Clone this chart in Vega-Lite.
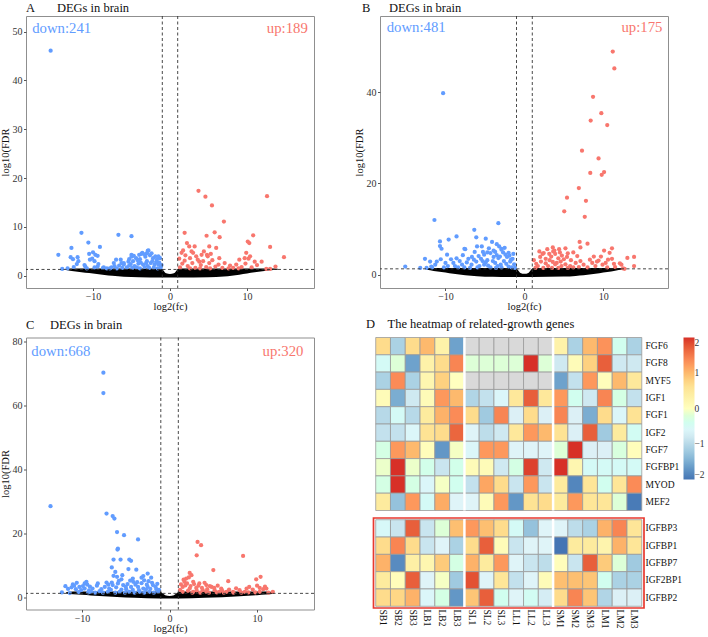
{
"$schema":"https://vega.github.io/schema/vega-lite/v6.json",
"background":"white",
"padding":{"left":0,"top":1,"right":0,"bottom":0},
"config":{
 "font":"Liberation Serif",
 "view":{"stroke":"#8f8f8f","strokeWidth":1},
 "axis":{"labelFont":"Liberation Serif","titleFont":"Liberation Serif","labelFontSize":10,"titleFontSize":10.5,"titleFontWeight":"normal","labelColor":"#333333","titleColor":"#111111","grid":false,"domain":false,"tickColor":"#555555","tickSize":2.5},
 "title":{"font":"Liberation Serif","fontSize":12.5,"fontWeight":"normal","anchor":"start","color":"#111111","frame":"group"},
 "legend":{"labelFont":"Liberation Serif"}
},
"datasets":{
 "aBand":[{"x":-13.5,"lo":1.2,"hi":1.45},{"x":-12.5,"lo":0.95,"hi":1.5},{"x":-11.5,"lo":0.75,"hi":1.5},{"x":-10.5,"lo":0.55,"hi":1.5},{"x":-9.5,"lo":0.35,"hi":1.5},{"x":-8.5,"lo":0.15,"hi":1.5},{"x":-7.5,"lo":0.0,"hi":1.5},{"x":-6,"lo":-0.2,"hi":1.5},{"x":-4,"lo":-0.3,"hi":1.5},{"x":-1.1,"lo":-0.35,"hi":1.5},{"x":-0.8,"lo":-0.35,"hi":1.0},{"x":-0.5,"lo":-0.35,"hi":0.5},{"x":0,"lo":-0.35,"hi":0.35},{"x":0.5,"lo":-0.35,"hi":0.5},{"x":0.8,"lo":-0.35,"hi":1.0},{"x":1.1,"lo":-0.35,"hi":1.5},{"x":5,"lo":-0.3,"hi":1.5},{"x":7,"lo":-0.15,"hi":1.5},{"x":8,"lo":0.0,"hi":1.5},{"x":9,"lo":0.2,"hi":1.5},{"x":10,"lo":0.45,"hi":1.5},{"x":11,"lo":0.7,"hi":1.5},{"x":12,"lo":0.95,"hi":1.5},{"x":13,"lo":1.15,"hi":1.5},{"x":14,"lo":1.25,"hi":1.45}],
 "aDown":[{"x":-15.5,"y":46.1},{"x":-11.5,"y":8.8},{"x":-10.6,"y":6.8},{"x":-6.7,"y":8.4},{"x":-5.0,"y":8.1},{"x":-9.1,"y":5.9},{"x":-12.8,"y":5.7},{"x":-14.5,"y":4.3},{"x":-14.0,"y":1.4},{"x":-12.9,"y":3.8},{"x":-12.0,"y":3.8},{"x":-12.6,"y":3.4},{"x":-11.9,"y":3.0},{"x":-12.5,"y":1.8},{"x":-10.0,"y":4.8},{"x":-10.5,"y":4.5},{"x":-9.7,"y":4.3},{"x":-10.4,"y":3.3},{"x":-9.8,"y":3.0},{"x":-12.1,"y":2.4},{"x":-11.1,"y":2.2},{"x":-9.3,"y":2.4},{"x":-8.6,"y":1.7},{"x":-8.2,"y":1.5},{"x":-9.8,"y":1.7},{"x":-7.6,"y":1.7},{"x":-6.0,"y":2.6},{"x":-7.0,"y":3.3},{"x":-6.4,"y":3.3},{"x":-2.9,"y":5.1},{"x":-3.7,"y":4.5},{"x":-5.0,"y":4.3},{"x":-10.1,"y":3.5},{"x":-9.4,"y":4.1},{"x":-11.0,"y":1.9},{"x":-9.4,"y":1.9},{"x":-8.7,"y":1.6},{"x":-7.2,"y":2.0},{"x":-6.3,"y":2.6},{"x":-6.0,"y":2.3},{"x":-13.3,"y":1.5},{"x":-10.8,"y":1.5},{"x":-3.6,"y":4.7},{"x":-2.8,"y":5.2},{"x":-4.0,"y":4.3},{"x":-5.0,"y":3.9},{"x":-3.2,"y":3.9},{"x":-2.2,"y":3.6},{"x":-1.7,"y":3.3},{"x":-4.2,"y":3.2},{"x":-5.4,"y":2.9},{"x":-2.5,"y":2.6},{"x":-1.5,"y":2.3},{"x":-3.5,"y":2.3},{"x":-4.6,"y":2.0},{"x":-2.9,"y":2.0},{"x":-2.1,"y":1.7},{"x":-3.9,"y":1.5},{"x":-5.6,"y":1.7},{"x":-5.1,"y":2.4},{"x":-1.2,"y":1.7},{"x":-1.4,"y":2.7},{"x":-3.0,"y":3.0},{"x":-3.8,"y":2.7},{"x":-4.4,"y":3.6},{"x":-2.6,"y":4.2},{"x":-1.9,"y":4.0},{"x":-1.3,"y":3.6},{"x":-4.8,"y":3.0},{"x":-3.3,"y":4.4},{"x":-2.0,"y":2.3},{"x":-1.6,"y":1.5},{"x":-2.7,"y":1.6},{"x":-3.3,"y":1.8},{"x":-4.3,"y":1.7},{"x":-4.9,"y":1.6},{"x":-5.3,"y":2.1},{"x":-4.1,"y":2.5},{"x":-3.1,"y":2.6},{"x":-2.3,"y":3.0},{"x":-1.1,"y":2.2},{"x":-1.8,"y":2.8},{"x":-3.9,"y":3.4},{"x":-4.7,"y":4.1},{"x":-3.0,"y":4.6},{"x":-2.4,"y":4.6},{"x":-1.5,"y":4.0},{"x":-5.3,"y":3.4},{"x":-6.2,"y":1.6},{"x":-6.6,"y":2.1},{"x":-7.3,"y":2.6},{"x":-7.8,"y":1.5},{"x":-6.9,"y":1.5}],
 "aUp":[{"x":3.7,"y":17.4},{"x":4.6,"y":16.2},{"x":5.45,"y":14.4},{"x":7.0,"y":11.1},{"x":12.6,"y":16.3},{"x":1.9,"y":8.8},{"x":4.75,"y":8.2},{"x":5.8,"y":8.9},{"x":6.45,"y":7.9},{"x":10.8,"y":8.3},{"x":10.3,"y":6.7},{"x":13.0,"y":5.9},{"x":14.8,"y":3.8},{"x":9.9,"y":4.7},{"x":5.1,"y":6.0},{"x":6.0,"y":5.7},{"x":2.2,"y":6.7},{"x":2.5,"y":6.0},{"x":3.2,"y":6.0},{"x":1.5,"y":4.7},{"x":3.0,"y":4.7},{"x":4.9,"y":4.0},{"x":7.1,"y":2.6},{"x":11.9,"y":2.9},{"x":13.7,"y":1.9},{"x":12.5,"y":1.4},{"x":13.0,"y":1.4},{"x":9.0,"y":3.3},{"x":9.7,"y":3.6},{"x":11.3,"y":2.2},{"x":10.1,"y":7.0},{"x":4.8,"y":4.3},{"x":3.8,"y":2.9},{"x":1.3,"y":1.7},{"x":1.6,"y":2.5},{"x":1.9,"y":3.1},{"x":2.3,"y":2.0},{"x":2.6,"y":3.6},{"x":2.9,"y":2.6},{"x":3.3,"y":1.6},{"x":3.6,"y":3.3},{"x":4.0,"y":2.2},{"x":4.3,"y":3.0},{"x":4.7,"y":1.8},{"x":5.1,"y":2.6},{"x":5.5,"y":3.2},{"x":5.9,"y":1.9},{"x":6.3,"y":2.3},{"x":6.8,"y":1.6},{"x":1.2,"y":3.5},{"x":2.0,"y":4.2},{"x":3.4,"y":4.0},{"x":4.1,"y":4.3},{"x":5.3,"y":4.5},{"x":6.4,"y":3.6},{"x":2.6,"y":1.5},{"x":3.9,"y":1.5},{"x":5.2,"y":1.5},{"x":7.6,"y":1.5},{"x":8.2,"y":1.6},{"x":8.6,"y":2.3},{"x":9.3,"y":1.8},{"x":9.8,"y":2.5},{"x":10.2,"y":3.5},{"x":10.6,"y":1.7},{"x":11.0,"y":2.9},{"x":8.9,"y":1.5},{"x":10.4,"y":4.0},{"x":7.8,"y":2.1},{"x":1.7,"y":5.2},{"x":2.8,"y":5.0},{"x":4.4,"y":5.0}],
 "bBand":[{"x":-12.4,"lo":1.1,"hi":1.45},{"x":-11.5,"lo":0.85,"hi":1.5},{"x":-10.5,"lo":0.6,"hi":1.5},{"x":-9.5,"lo":0.35,"hi":1.5},{"x":-8.5,"lo":0.1,"hi":1.5},{"x":-7.5,"lo":-0.1,"hi":1.5},{"x":-6,"lo":-0.3,"hi":1.5},{"x":-4,"lo":-0.45,"hi":1.5},{"x":-1.1,"lo":-0.5,"hi":1.5},{"x":-0.8,"lo":-0.5,"hi":1.0},{"x":-0.5,"lo":-0.5,"hi":0.4},{"x":0,"lo":-0.5,"hi":0.2},{"x":0.5,"lo":-0.5,"hi":0.4},{"x":0.8,"lo":-0.5,"hi":1.0},{"x":1.1,"lo":-0.5,"hi":1.5},{"x":5,"lo":-0.4,"hi":1.5},{"x":6.5,"lo":-0.25,"hi":1.5},{"x":7.5,"lo":-0.1,"hi":1.5},{"x":8.5,"lo":0.1,"hi":1.5},{"x":9.5,"lo":0.35,"hi":1.5},{"x":10.5,"lo":0.6,"hi":1.5},{"x":11.5,"lo":0.9,"hi":1.5},{"x":12.4,"lo":1.15,"hi":1.45}],
 "bDown":[{"x":-10.3,"y":39.8},{"x":-11.4,"y":12.0},{"x":-3.3,"y":11.3},{"x":-6.35,"y":9.85},{"x":-8.6,"y":8.4},{"x":-9.6,"y":7.7},{"x":-10.7,"y":7.3},{"x":-6.1,"y":8.2},{"x":-4.9,"y":7.9},{"x":-4.1,"y":7.2},{"x":-7.6,"y":5.7},{"x":-10.7,"y":6.3},{"x":-10.5,"y":5.7},{"x":-9.8,"y":4.4},{"x":-15.1,"y":1.8},{"x":-12.6,"y":3.5},{"x":-11.95,"y":2.9},{"x":-11.1,"y":2.9},{"x":-12.4,"y":1.5},{"x":-11.3,"y":2.2},{"x":-9.0,"y":2.6},{"x":-7.9,"y":2.2},{"x":-7.5,"y":5.6},{"x":-6.0,"y":6.2},{"x":-5.4,"y":6.2},{"x":-5.25,"y":5.0},{"x":-3.5,"y":6.7},{"x":-3.2,"y":6.2},{"x":-6.65,"y":3.9},{"x":-2.9,"y":5.7},{"x":-9.7,"y":1.9},{"x":-8.4,"y":1.6},{"x":-7.6,"y":1.6},{"x":-10.2,"y":1.6},{"x":-11.7,"y":1.6},{"x":-13.2,"y":1.5},{"x":-4.3,"y":4.75},{"x":-3.7,"y":5.0},{"x":-2.9,"y":5.5},{"x":-2.4,"y":4.4},{"x":-2.2,"y":3.9},{"x":-1.8,"y":2.9},{"x":-1.6,"y":1.6},{"x":-3.3,"y":3.65},{"x":-3.9,"y":3.9},{"x":-4.7,"y":3.2},{"x":-5.5,"y":3.5},{"x":-6.1,"y":2.9},{"x":-6.7,"y":2.2},{"x":-5.1,"y":2.2},{"x":-3.7,"y":2.6},{"x":-2.9,"y":1.6},{"x":-4.3,"y":1.6},{"x":-5.95,"y":1.6},{"x":-7.1,"y":3.5},{"x":-5.1,"y":4.4},{"x":-4.5,"y":5.8},{"x":-1.3,"y":2.3},{"x":-1.5,"y":3.5},{"x":-2.0,"y":4.8},{"x":-2.6,"y":3.0},{"x":-3.0,"y":2.2},{"x":-3.5,"y":4.3},{"x":-4.0,"y":3.0},{"x":-4.9,"y":2.7},{"x":-5.7,"y":1.9},{"x":-6.4,"y":3.3},{"x":-6.9,"y":1.5},{"x":-7.3,"y":2.7},{"x":-8.2,"y":3.0},{"x":-8.8,"y":1.9},{"x":-2.3,"y":2.4},{"x":-1.2,"y":1.5},{"x":-3.4,"y":1.9},{"x":-4.6,"y":2.0},{"x":-5.3,"y":3.0},{"x":-2.7,"y":4.9},{"x":-3.9,"y":5.3},{"x":-4.7,"y":4.9},{"x":-5.8,"y":4.1},{"x":-1.9,"y":4.2},{"x":-1.4,"y":4.6},{"x":-2.5,"y":5.9},{"x":-3.1,"y":4.0},{"x":-3.6,"y":1.5},{"x":-2.0,"y":1.8},{"x":-1.7,"y":3.3},{"x":-6.3,"y":5.0},{"x":-7.8,"y":4.3},{"x":-8.6,"y":3.6},{"x":-9.3,"y":3.4},{"x":-10.0,"y":2.6},{"x":-10.6,"y":3.4},{"x":-11.8,"y":1.8}],
 "bUp":[{"x":11.2,"y":48.9},{"x":11.4,"y":45.2},{"x":8.7,"y":39.0},{"x":9.75,"y":35.4},{"x":8.4,"y":33.8},{"x":10.5,"y":32.8},{"x":7.3,"y":27.2},{"x":9.4,"y":25.5},{"x":8.35,"y":22.3},{"x":10.1,"y":22.5},{"x":9.8,"y":21.9},{"x":6.9,"y":19.0},{"x":5.4,"y":16.9},{"x":7.8,"y":16.2},{"x":5.05,"y":13.9},{"x":7.65,"y":12.7},{"x":7.0,"y":7.2},{"x":8.0,"y":6.8},{"x":7.1,"y":6.0},{"x":10.1,"y":5.3},{"x":11.1,"y":5.8},{"x":10.8,"y":4.8},{"x":5.2,"y":5.8},{"x":3.8,"y":5.3},{"x":2.45,"y":4.75},{"x":3.65,"y":5.1},{"x":3.9,"y":4.6},{"x":6.2,"y":4.9},{"x":13.05,"y":3.7},{"x":13.9,"y":3.9},{"x":10.6,"y":3.3},{"x":12.1,"y":2.5},{"x":12.5,"y":1.4},{"x":11.5,"y":1.7},{"x":13.9,"y":1.9},{"x":9.4,"y":3.1},{"x":11.35,"y":2.4},{"x":12.3,"y":2.2},{"x":12.7,"y":1.3},{"x":2.1,"y":2.9},{"x":2.7,"y":3.5},{"x":3.2,"y":3.2},{"x":4.1,"y":2.6},{"x":4.6,"y":2.9},{"x":5.2,"y":2.3},{"x":5.8,"y":1.9},{"x":6.5,"y":2.6},{"x":1.7,"y":1.9},{"x":3.0,"y":1.9},{"x":3.9,"y":2.3},{"x":4.7,"y":1.9},{"x":8.0,"y":1.6},{"x":8.6,"y":2.6},{"x":9.0,"y":1.9},{"x":9.2,"y":2.9},{"x":2.3,"y":4.6},{"x":3.15,"y":4.6},{"x":4.75,"y":4.2},{"x":5.4,"y":3.9},{"x":7.5,"y":2.2},{"x":9.9,"y":2.2},{"x":10.5,"y":1.6},{"x":1.4,"y":1.5},{"x":1.5,"y":2.4},{"x":2.4,"y":1.5},{"x":3.5,"y":1.5},{"x":4.3,"y":1.5},{"x":5.5,"y":1.5},{"x":6.2,"y":1.6},{"x":4.3,"y":3.6},{"x":3.4,"y":4.0},{"x":2.0,"y":3.9},{"x":5.9,"y":3.2},{"x":6.9,"y":1.7},{"x":7.1,"y":3.0},{"x":8.3,"y":3.3},{"x":1.2,"y":3.2},{"x":9.7,"y":4.0},{"x":10.3,"y":2.6},{"x":11.1,"y":3.5},{"x":6.7,"y":4.1},{"x":5.0,"y":3.4},{"x":2.7,"y":2.5},{"x":3.6,"y":2.8},{"x":4.5,"y":4.9},{"x":5.5,"y":4.7},{"x":1.9,"y":5.1},{"x":2.9,"y":5.6},{"x":3.6,"y":6.0},{"x":4.4,"y":5.6},{"x":8.8,"y":4.0}],
 "cBand":[{"x":-11.8,"lo":1.2,"hi":1.7},{"x":-11,"lo":1.0,"hi":1.85},{"x":-10,"lo":0.85,"hi":1.85},{"x":-9,"lo":0.65,"hi":1.85},{"x":-8,"lo":0.45,"hi":1.85},{"x":-7,"lo":0.3,"hi":1.85},{"x":-6,"lo":0.15,"hi":1.85},{"x":-4,"lo":-0.1,"hi":1.85},{"x":-1.1,"lo":-0.3,"hi":1.85},{"x":-0.8,"lo":-0.3,"hi":1.3},{"x":-0.5,"lo":-0.3,"hi":0.7},{"x":0,"lo":-0.3,"hi":0.45},{"x":0.5,"lo":-0.3,"hi":0.7},{"x":0.8,"lo":-0.3,"hi":1.3},{"x":1.1,"lo":-0.3,"hi":1.85},{"x":4,"lo":-0.1,"hi":1.85},{"x":6,"lo":0.1,"hi":1.85},{"x":8,"lo":0.4,"hi":1.85},{"x":10,"lo":0.75,"hi":1.85},{"x":11,"lo":0.95,"hi":1.85},{"x":11.9,"lo":1.2,"hi":1.7}],
 "cDown":[{"x":-7.56,"y":70.4},{"x":-7.56,"y":64.0},{"x":-13.6,"y":28.6},{"x":-7.2,"y":26.3},{"x":-6.5,"y":25.5},{"x":-6.3,"y":24.7},{"x":-6.0,"y":20.5},{"x":-5.2,"y":19.5},{"x":-3.6,"y":18.2},{"x":-5.9,"y":15.3},{"x":-5.95,"y":15.0},{"x":-6.4,"y":11.9},{"x":-5.6,"y":11.9},{"x":-4.6,"y":11.9},{"x":-4.4,"y":11.5},{"x":-6.6,"y":9.4},{"x":-4.7,"y":8.9},{"x":-3.8,"y":8.7},{"x":-6.4,"y":6.8},{"x":-6.0,"y":6.5},{"x":-5.8,"y":5.2},{"x":-4.2,"y":5.95},{"x":-4.15,"y":4.9},{"x":-3.2,"y":6.2},{"x":-2.5,"y":7.5},{"x":-2.1,"y":6.2},{"x":-2.9,"y":5.4},{"x":-7.2,"y":4.7},{"x":-9.5,"y":4.9},{"x":-9.7,"y":4.4},{"x":-11.05,"y":4.1},{"x":-11.9,"y":3.55},{"x":-10.7,"y":2.6},{"x":-11.4,"y":1.4},{"x":-10.1,"y":2.3},{"x":-8.8,"y":2.8},{"x":-8.0,"y":2.0},{"x":-6.9,"y":2.8},{"x":-5.3,"y":3.9},{"x":-4.95,"y":2.6},{"x":-4.4,"y":3.3},{"x":-3.6,"y":3.3},{"x":-3.0,"y":2.8},{"x":-2.5,"y":3.3},{"x":-1.9,"y":3.9},{"x":-1.5,"y":2.6},{"x":-1.3,"y":1.8},{"x":-2.3,"y":1.8},{"x":-3.4,"y":1.8},{"x":-4.6,"y":1.8},{"x":-5.7,"y":1.8},{"x":-7.05,"y":1.8},{"x":-8.96,"y":1.8},{"x":-9.7,"y":2.8},{"x":-10.3,"y":3.3},{"x":-6.5,"y":3.9},{"x":-7.4,"y":3.3},{"x":-12.3,"y":1.6},{"x":-11.6,"y":2.7},{"x":-10.9,"y":3.7},{"x":-10.4,"y":1.7},{"x":-9.9,"y":3.6},{"x":-9.2,"y":2.2},{"x":-9.1,"y":3.4},{"x":-8.5,"y":1.5},{"x":-8.3,"y":3.7},{"x":-7.8,"y":2.6},{"x":-7.6,"y":1.5},{"x":-7.0,"y":4.0},{"x":-6.7,"y":2.4},{"x":-6.2,"y":1.5},{"x":-6.1,"y":3.2},{"x":-5.9,"y":4.4},{"x":-5.5,"y":2.5},{"x":-5.1,"y":1.5},{"x":-5.0,"y":3.3},{"x":-4.8,"y":4.2},{"x":-4.2,"y":2.4},{"x":-4.0,"y":1.5},{"x":-3.9,"y":4.0},{"x":-3.5,"y":2.3},{"x":-3.2,"y":4.5},{"x":-2.9,"y":1.5},{"x":-2.7,"y":2.5},{"x":-2.6,"y":4.0},{"x":-2.2,"y":2.7},{"x":-2.0,"y":4.6},{"x":-1.8,"y":1.5},{"x":-1.6,"y":3.3},{"x":-1.2,"y":2.4},{"x":-1.4,"y":4.3},{"x":-2.4,"y":5.1},{"x":-3.7,"y":4.8},{"x":-4.5,"y":5.3},{"x":-5.5,"y":5.7},{"x":-6.6,"y":4.7},{"x":-8.2,"y":4.4},{"x":-9.4,"y":4.0},{"x":-10.6,"y":4.6},{"x":-11.2,"y":3.2},{"x":-9.3,"y":1.6},{"x":-5.4,"y":7.0},{"x":-3.0,"y":6.7},{"x":-6.2,"y":8.0}],
 "cUp":[{"x":3.2,"y":17.4},{"x":3.6,"y":16.4},{"x":3.1,"y":13.2},{"x":8.4,"y":13.0},{"x":5.0,"y":8.6},{"x":10.4,"y":6.5},{"x":9.9,"y":5.7},{"x":6.7,"y":5.1},{"x":2.3,"y":7.7},{"x":2.5,"y":7.0},{"x":1.9,"y":5.95},{"x":1.7,"y":4.9},{"x":2.7,"y":4.9},{"x":3.4,"y":4.4},{"x":4.2,"y":3.9},{"x":4.8,"y":3.3},{"x":5.9,"y":2.8},{"x":1.5,"y":3.3},{"x":2.3,"y":2.8},{"x":3.05,"y":3.0},{"x":3.8,"y":2.3},{"x":5.15,"y":2.3},{"x":6.5,"y":1.8},{"x":1.5,"y":1.8},{"x":8.0,"y":2.3},{"x":8.8,"y":2.8},{"x":9.5,"y":2.5},{"x":10.3,"y":3.0},{"x":10.7,"y":2.6},{"x":11.06,"y":2.8},{"x":11.8,"y":1.8},{"x":10.3,"y":1.8},{"x":8.6,"y":1.8},{"x":5.7,"y":1.8},{"x":2.7,"y":1.8},{"x":4.2,"y":1.8},{"x":7.25,"y":1.8},{"x":1.2,"y":2.4},{"x":1.3,"y":4.1},{"x":1.8,"y":3.8},{"x":2.1,"y":2.1},{"x":2.0,"y":4.4},{"x":2.4,"y":3.6},{"x":2.6,"y":1.5},{"x":2.8,"y":4.2},{"x":3.1,"y":2.2},{"x":3.3,"y":3.7},{"x":3.5,"y":1.5},{"x":3.7,"y":3.0},{"x":4.0,"y":4.6},{"x":4.3,"y":2.6},{"x":4.5,"y":1.5},{"x":4.6,"y":3.6},{"x":5.1,"y":3.0},{"x":5.4,"y":1.6},{"x":5.5,"y":3.7},{"x":6.0,"y":2.2},{"x":6.2,"y":1.5},{"x":6.8,"y":2.5},{"x":7.3,"y":1.5},{"x":7.6,"y":2.9},{"x":8.2,"y":1.5},{"x":9.0,"y":1.6},{"x":9.1,"y":3.3},{"x":9.8,"y":1.6},{"x":10.0,"y":3.7},{"x":11.3,"y":1.5},{"x":10.9,"y":3.4},{"x":1.6,"y":5.6},{"x":2.2,"y":6.3}],
 "hmTop":[
  {"g":"FGF6","s":"SB1","v":0.7},{"g":"FGF6","s":"SB2","v":-1.1},{"g":"FGF6","s":"SB3","v":0.7},{"g":"FGF6","s":"LB1","v":1.0},{"g":"FGF6","s":"LB2","v":0.3},{"g":"FGF6","s":"LB3","v":-1.6},{"g":"FGF6","s":"SL1","v":null},{"g":"FGF6","s":"SL2","v":null},{"g":"FGF6","s":"SL3","v":null},{"g":"FGF6","s":"LL1","v":null},{"g":"FGF6","s":"LL2","v":null},{"g":"FGF6","s":"LL3","v":null},{"g":"FGF6","s":"SM1","v":0.3},{"g":"FGF6","s":"SM2","v":-1.1},{"g":"FGF6","s":"SM3","v":1.0},{"g":"FGF6","s":"LM1","v":1.3},{"g":"FGF6","s":"LM2","v":-0.4},{"g":"FGF6","s":"LM3","v":-1.1},
  {"g":"FGF8","s":"SB1","v":-0.5},{"g":"FGF8","s":"SB2","v":-0.2},{"g":"FGF8","s":"SB3","v":-1.6},{"g":"FGF8","s":"LB1","v":0.3},{"g":"FGF8","s":"LB2","v":0.7},{"g":"FGF8","s":"LB3","v":1.4},{"g":"FGF8","s":"SL1","v":-0.2},{"g":"FGF8","s":"SL2","v":-0.2},{"g":"FGF8","s":"SL3","v":-0.2},{"g":"FGF8","s":"LL1","v":-0.2},{"g":"FGF8","s":"LL2","v":2.0},{"g":"FGF8","s":"LL3","v":-0.2},{"g":"FGF8","s":"SM1","v":-0.8},{"g":"FGF8","s":"SM2","v":0.1},{"g":"FGF8","s":"SM3","v":0.8},{"g":"FGF8","s":"LM1","v":1.7},{"g":"FGF8","s":"LM2","v":-0.8},{"g":"FGF8","s":"LM3","v":-0.8},
  {"g":"MYF5","s":"SB1","v":-1.1},{"g":"MYF5","s":"SB2","v":1.35},{"g":"MYF5","s":"SB3","v":-1.1},{"g":"MYF5","s":"LB1","v":0.2},{"g":"MYF5","s":"LB2","v":0.8},{"g":"MYF5","s":"LB3","v":0.0},{"g":"MYF5","s":"SL1","v":null},{"g":"MYF5","s":"SL2","v":null},{"g":"MYF5","s":"SL3","v":null},{"g":"MYF5","s":"LL1","v":null},{"g":"MYF5","s":"LL2","v":null},{"g":"MYF5","s":"LL3","v":null},{"g":"MYF5","s":"SM1","v":-1.6},{"g":"MYF5","s":"SM2","v":-0.9},{"g":"MYF5","s":"SM3","v":1.25},{"g":"MYF5","s":"LM1","v":0.05},{"g":"MYF5","s":"LM2","v":1.0},{"g":"MYF5","s":"LM3","v":0.5},
  {"g":"IGF1","s":"SB1","v":0.1},{"g":"IGF1","s":"SB2","v":-1.5},{"g":"IGF1","s":"SB3","v":-0.8},{"g":"IGF1","s":"LB1","v":0.1},{"g":"IGF1","s":"LB2","v":1.25},{"g":"IGF1","s":"LB3","v":1.0},{"g":"IGF1","s":"SL1","v":-1.05},{"g":"IGF1","s":"SL2","v":-0.9},{"g":"IGF1","s":"SL3","v":-0.6},{"g":"IGF1","s":"LL1","v":0.5},{"g":"IGF1","s":"LL2","v":1.7},{"g":"IGF1","s":"LL3","v":0.5},{"g":"IGF1","s":"SM1","v":1.25},{"g":"IGF1","s":"SM2","v":-0.4},{"g":"IGF1","s":"SM3","v":-0.8},{"g":"IGF1","s":"LM1","v":1.4},{"g":"IGF1","s":"LM2","v":-0.3},{"g":"IGF1","s":"LM3","v":-0.9},
  {"g":"FGF1","s":"SB1","v":-1.0},{"g":"FGF1","s":"SB2","v":-0.5},{"g":"FGF1","s":"SB3","v":-1.0},{"g":"FGF1","s":"LB1","v":0.45},{"g":"FGF1","s":"LB2","v":1.05},{"g":"FGF1","s":"LB3","v":1.35},{"g":"FGF1","s":"SL1","v":0.7},{"g":"FGF1","s":"SL2","v":-1.2},{"g":"FGF1","s":"SL3","v":1.4},{"g":"FGF1","s":"LL1","v":-0.7},{"g":"FGF1","s":"LL2","v":0.7},{"g":"FGF1","s":"LL3","v":-0.7},{"g":"FGF1","s":"SM1","v":1.4},{"g":"FGF1","s":"SM2","v":-0.7},{"g":"FGF1","s":"SM3","v":-1.5},{"g":"FGF1","s":"LM1","v":0.7},{"g":"FGF1","s":"LM2","v":-0.6},{"g":"FGF1","s":"LM3","v":0.6},
  {"g":"IGF2","s":"SB1","v":-0.9},{"g":"IGF2","s":"SB2","v":-0.9},{"g":"IGF2","s":"SB3","v":-0.6},{"g":"IGF2","s":"LB1","v":0.6},{"g":"IGF2","s":"LB2","v":0.7},{"g":"IGF2","s":"LB3","v":1.65},{"g":"IGF2","s":"SL1","v":-0.65},{"g":"IGF2","s":"SL2","v":-0.95},{"g":"IGF2","s":"SL3","v":-0.8},{"g":"IGF2","s":"LL1","v":0.5},{"g":"IGF2","s":"LL2","v":1.25},{"g":"IGF2","s":"LL3","v":1.0},{"g":"IGF2","s":"SM1","v":0.6},{"g":"IGF2","s":"SM2","v":-0.7},{"g":"IGF2","s":"SM3","v":1.7},{"g":"IGF2","s":"LM1","v":-1.2},{"g":"IGF2","s":"LM2","v":0.45},{"g":"IGF2","s":"LM3","v":-0.45},
  {"g":"FGF7","s":"SB1","v":-0.3},{"g":"FGF7","s":"SB2","v":1.25},{"g":"FGF7","s":"SB3","v":1.0},{"g":"FGF7","s":"LB1","v":0.05},{"g":"FGF7","s":"LB2","v":-1.7},{"g":"FGF7","s":"LB3","v":-0.05},{"g":"FGF7","s":"SL1","v":-0.6},{"g":"FGF7","s":"SL2","v":1.25},{"g":"FGF7","s":"SL3","v":1.25},{"g":"FGF7","s":"LL1","v":-0.65},{"g":"FGF7","s":"LL2","v":-0.65},{"g":"FGF7","s":"LL3","v":-0.65},{"g":"FGF7","s":"SM1","v":-0.2},{"g":"FGF7","s":"SM2","v":2.0},{"g":"FGF7","s":"SM3","v":-0.7},{"g":"FGF7","s":"LM1","v":-0.7},{"g":"FGF7","s":"LM2","v":-0.25},{"g":"FGF7","s":"LM3","v":0.05},
  {"g":"FGFBP1","s":"SB1","v":-0.1},{"g":"FGFBP1","s":"SB2","v":2.0},{"g":"FGFBP1","s":"SB3","v":-0.1},{"g":"FGFBP1","s":"LB1","v":-0.35},{"g":"FGFBP1","s":"LB2","v":-0.85},{"g":"FGFBP1","s":"LB3","v":-0.35},{"g":"FGFBP1","s":"SL1","v":0.1},{"g":"FGFBP1","s":"SL2","v":0.1},{"g":"FGFBP1","s":"SL3","v":-0.8},{"g":"FGFBP1","s":"LL1","v":-0.3},{"g":"FGFBP1","s":"LL2","v":1.9},{"g":"FGFBP1","s":"LL3","v":-0.8},{"g":"FGFBP1","s":"SM1","v":2.0},{"g":"FGFBP1","s":"SM2","v":0.2},{"g":"FGFBP1","s":"SM3","v":-0.5},{"g":"FGFBP1","s":"LM1","v":-0.5},{"g":"FGFBP1","s":"LM2","v":-0.5},{"g":"FGFBP1","s":"LM3","v":-0.5},
  {"g":"MYOD","s":"SB1","v":-0.3},{"g":"MYOD","s":"SB2","v":2.0},{"g":"MYOD","s":"SB3","v":-0.3},{"g":"MYOD","s":"LB1","v":-0.6},{"g":"MYOD","s":"LB2","v":-0.05},{"g":"MYOD","s":"LB3","v":-0.4},{"g":"MYOD","s":"SL1","v":-0.9},{"g":"MYOD","s":"SL2","v":1.15},{"g":"MYOD","s":"SL3","v":0.7},{"g":"MYOD","s":"LL1","v":-0.85},{"g":"MYOD","s":"LL2","v":1.25},{"g":"MYOD","s":"LL3","v":-0.85},{"g":"MYOD","s":"SM1","v":0.45},{"g":"MYOD","s":"SM2","v":-1.85},{"g":"MYOD","s":"SM3","v":0.55},{"g":"MYOD","s":"LM1","v":-0.4},{"g":"MYOD","s":"LM2","v":0.55},{"g":"MYOD","s":"LM3","v":1.35},
  {"g":"MEF2","s":"SB1","v":0.45},{"g":"MEF2","s":"SB2","v":-1.3},{"g":"MEF2","s":"SB3","v":1.25},{"g":"MEF2","s":"LB1","v":-0.5},{"g":"MEF2","s":"LB2","v":1.1},{"g":"MEF2","s":"LB3","v":-0.65},{"g":"MEF2","s":"SL1","v":-0.65},{"g":"MEF2","s":"SL2","v":0.1},{"g":"MEF2","s":"SL3","v":1.25},{"g":"MEF2","s":"LL1","v":-1.7},{"g":"MEF2","s":"LL2","v":0.6},{"g":"MEF2","s":"LL3","v":0.7},{"g":"MEF2","s":"SM1","v":0.45},{"g":"MEF2","s":"SM2","v":1.25},{"g":"MEF2","s":"SM3","v":0.55},{"g":"MEF2","s":"LM1","v":0.55},{"g":"MEF2","s":"LM2","v":-0.2},{"g":"MEF2","s":"LM3","v":-1.95}
 ],
 "hmBot":[
  {"g":"IGFBP3","s":"SB1","v":-0.55},{"g":"IGFBP3","s":"SB2","v":-0.85},{"g":"IGFBP3","s":"SB3","v":1.7},{"g":"IGFBP3","s":"LB1","v":-0.85},{"g":"IGFBP3","s":"LB2","v":-0.2},{"g":"IGFBP3","s":"LB3","v":0.95},{"g":"IGFBP3","s":"SL1","v":1.25},{"g":"IGFBP3","s":"SL2","v":0.95},{"g":"IGFBP3","s":"SL3","v":0.7},{"g":"IGFBP3","s":"LL1","v":-0.5},{"g":"IGFBP3","s":"LL2","v":-1.3},{"g":"IGFBP3","s":"LL3","v":-0.65},{"g":"IGFBP3","s":"SM1","v":-0.65},{"g":"IGFBP3","s":"SM2","v":-0.95},{"g":"IGFBP3","s":"SM3","v":-1.1},{"g":"IGFBP3","s":"LM1","v":1.05},{"g":"IGFBP3","s":"LM2","v":1.4},{"g":"IGFBP3","s":"LM3","v":0.55},
  {"g":"IGFBP1","s":"SB1","v":0.7},{"g":"IGFBP1","s":"SB2","v":1.4},{"g":"IGFBP1","s":"SB3","v":0.7},{"g":"IGFBP1","s":"LB1","v":-0.85},{"g":"IGFBP1","s":"LB2","v":-0.65},{"g":"IGFBP1","s":"LB3","v":-1.1},{"g":"IGFBP1","s":"SL1","v":0.7},{"g":"IGFBP1","s":"SL2","v":1.7},{"g":"IGFBP1","s":"SL3","v":0.1},{"g":"IGFBP1","s":"LL1","v":-0.85},{"g":"IGFBP1","s":"LL2","v":-0.65},{"g":"IGFBP1","s":"LL3","v":-0.65},{"g":"IGFBP1","s":"SM1","v":-2.0},{"g":"IGFBP1","s":"SM2","v":0.45},{"g":"IGFBP1","s":"SM3","v":0.45},{"g":"IGFBP1","s":"LM1","v":0.25},{"g":"IGFBP1","s":"LM2","v":1.05},{"g":"IGFBP1","s":"LM3","v":0.55},
  {"g":"IGFBP7","s":"SB1","v":1.05},{"g":"IGFBP7","s":"SB2","v":-1.8},{"g":"IGFBP7","s":"SB3","v":0.35},{"g":"IGFBP7","s":"LB1","v":0.2},{"g":"IGFBP7","s":"LB2","v":0.85},{"g":"IGFBP7","s":"LB3","v":-0.3},{"g":"IGFBP7","s":"SL1","v":1.05},{"g":"IGFBP7","s":"SL2","v":0.45},{"g":"IGFBP7","s":"SL3","v":1.25},{"g":"IGFBP7","s":"LL1","v":-0.65},{"g":"IGFBP7","s":"LL2","v":-0.85},{"g":"IGFBP7","s":"LL3","v":-0.95},{"g":"IGFBP7","s":"SM1","v":0.05},{"g":"IGFBP7","s":"SM2","v":-0.85},{"g":"IGFBP7","s":"SM3","v":1.7},{"g":"IGFBP7","s":"LM1","v":0.85},{"g":"IGFBP7","s":"LM2","v":-0.2},{"g":"IGFBP7","s":"LM3","v":-1.2},
  {"g":"IGF2BP1","s":"SB1","v":0.45},{"g":"IGF2BP1","s":"SB2","v":0.05},{"g":"IGF2BP1","s":"SB3","v":1.7},{"g":"IGF2BP1","s":"LB1","v":-0.65},{"g":"IGF2BP1","s":"LB2","v":-0.05},{"g":"IGF2BP1","s":"LB3","v":-1.2},{"g":"IGF2BP1","s":"SL1","v":1.8},{"g":"IGF2BP1","s":"SL2","v":-0.65},{"g":"IGF2BP1","s":"SL3","v":0.55},{"g":"IGF2BP1","s":"LL1","v":-0.9},{"g":"IGF2BP1","s":"LL2","v":-0.65},{"g":"IGF2BP1","s":"LL3","v":0.1},{"g":"IGF2BP1","s":"SM1","v":0.95},{"g":"IGF2BP1","s":"SM2","v":0.95},{"g":"IGF2BP1","s":"SM3","v":0.9},{"g":"IGF2BP1","s":"LM1","v":-0.4},{"g":"IGF2BP1","s":"LM2","v":-1.1},{"g":"IGF2BP1","s":"LM3","v":-1.1},
  {"g":"IGFBP2","s":"SB1","v":0.7},{"g":"IGFBP2","s":"SB2","v":0.75},{"g":"IGFBP2","s":"SB3","v":1.05},{"g":"IGFBP2","s":"LB1","v":-0.6},{"g":"IGFBP2","s":"LB2","v":-0.3},{"g":"IGFBP2","s":"LB3","v":-1.7},{"g":"IGFBP2","s":"SL1","v":0.9},{"g":"IGFBP2","s":"SL2","v":1.7},{"g":"IGFBP2","s":"SL3","v":-0.4},{"g":"IGFBP2","s":"LL1","v":-0.65},{"g":"IGFBP2","s":"LL2","v":-0.45},{"g":"IGFBP2","s":"LL3","v":-0.75},{"g":"IGFBP2","s":"SM1","v":0.7},{"g":"IGFBP2","s":"SM2","v":1.4},{"g":"IGFBP2","s":"SM3","v":0.9},{"g":"IGFBP2","s":"LM1","v":-1.05},{"g":"IGFBP2","s":"LM2","v":-0.7},{"g":"IGFBP2","s":"LM3","v":-0.7}
 ]
},
"spacing":4.5,
"vconcat":[
 {"spacing":39,"hconcat":[
  {"width":288,"height":272,
   "title":{"text":"A\u2003\u2002 DEGs in brain","offset":1},
   "layer":[
    {"data":{"name":"aBand"},"mark":{"type":"area","color":"#000000","interpolate":"monotone"},
     "encoding":{"x":{"field":"x","type":"quantitative","scale":{"domain":[-18.7,18.7],"nice":false,"zero":false},"axis":{"values":[-10,0,10],"title":"log2(fc)","labelPadding":1,"titlePadding":0}},
      "y":{"field":"hi","type":"quantitative","scale":{"domain":[-2.5,53.2],"nice":false,"zero":false},"axis":{"values":[0,10,20,30,40,50],"title":"log10(FDR","labelPadding":1.5,"titlePadding":1.5}},
      "y2":{"field":"lo"}}},
    {"data":{"name":"aDown"},"mark":{"type":"circle","color":"#619CFF","size":18,"opacity":1},"encoding":{"x":{"field":"x","type":"quantitative"},"y":{"field":"y","type":"quantitative"}}},
    {"data":{"name":"aUp"},"mark":{"type":"circle","color":"#F8766D","size":18,"opacity":1},"encoding":{"x":{"field":"x","type":"quantitative"},"y":{"field":"y","type":"quantitative"}}},
    {"data":{"values":[{"v":-1},{"v":1}]},"mark":{"type":"rule","color":"#333333","strokeDash":[3,2.5],"strokeWidth":0.9},"encoding":{"x":{"field":"v","type":"quantitative"}}},
    {"data":{"values":[{"v":1.3}]},"mark":{"type":"rule","color":"#333333","strokeDash":[3,2.5],"strokeWidth":0.9},"encoding":{"y":{"field":"v","type":"quantitative"}}},
    {"data":{"values":[{"x":-17.9,"y":49.8,"t":"down:241"}]},"mark":{"type":"text","align":"left","baseline":"alphabetic","fontSize":14.75,"color":"#619CFF"},"encoding":{"x":{"field":"x","type":"quantitative"},"y":{"field":"y","type":"quantitative"},"text":{"field":"t"}}},
    {"data":{"values":[{"x":17.9,"y":49.8,"t":"up:189"}]},"mark":{"type":"text","align":"right","baseline":"alphabetic","fontSize":14.75,"color":"#F8766D"},"encoding":{"x":{"field":"x","type":"quantitative"},"y":{"field":"y","type":"quantitative"},"text":{"field":"t"}}}
   ]},
  {"width":288,"height":272,
   "title":{"text":"B\u2003\u2002DEGs in brain","offset":1,"dx":-18},
   "layer":[
    {"data":{"name":"bBand"},"mark":{"type":"area","color":"#000000","interpolate":"monotone"},
     "encoding":{"x":{"field":"x","type":"quantitative","scale":{"domain":[-18.3,18.2],"nice":false,"zero":false},"axis":{"values":[-10,0,10],"title":"log2(fc)","labelPadding":1,"titlePadding":0}},
      "y":{"field":"hi","type":"quantitative","scale":{"domain":[-2.9,56.7],"nice":false,"zero":false},"axis":{"values":[0,20,40],"title":"log10(FDR","labelPadding":1.5,"titlePadding":1.5}},
      "y2":{"field":"lo"}}},
    {"data":{"name":"bDown"},"mark":{"type":"circle","color":"#619CFF","size":18,"opacity":1},"encoding":{"x":{"field":"x","type":"quantitative"},"y":{"field":"y","type":"quantitative"}}},
    {"data":{"name":"bUp"},"mark":{"type":"circle","color":"#F8766D","size":18,"opacity":1},"encoding":{"x":{"field":"x","type":"quantitative"},"y":{"field":"y","type":"quantitative"}}},
    {"data":{"values":[{"v":-1},{"v":1}]},"mark":{"type":"rule","color":"#333333","strokeDash":[3,2.5],"strokeWidth":0.9},"encoding":{"x":{"field":"v","type":"quantitative"}}},
    {"data":{"values":[{"v":1.3}]},"mark":{"type":"rule","color":"#333333","strokeDash":[3,2.5],"strokeWidth":0.9},"encoding":{"y":{"field":"v","type":"quantitative"}}},
    {"data":{"values":[{"x":-17.45,"y":53.1,"t":"down:481"}]},"mark":{"type":"text","align":"left","baseline":"alphabetic","fontSize":14.75,"color":"#619CFF"},"encoding":{"x":{"field":"x","type":"quantitative"},"y":{"field":"y","type":"quantitative"},"text":{"field":"t"}}},
    {"data":{"values":[{"x":17.5,"y":53.1,"t":"up:175"}]},"mark":{"type":"text","align":"right","baseline":"alphabetic","fontSize":14.75,"color":"#F8766D"},"encoding":{"x":{"field":"x","type":"quantitative"},"y":{"field":"y","type":"quantitative"},"text":{"field":"t"}}}
   ]}
 ]},
 {"spacing":50.5,"hconcat":[
  {"width":288,"height":272,
   "title":{"text":"C\u2003 DEGs in brain","offset":5.5},
   "layer":[
    {"data":{"name":"cBand"},"mark":{"type":"area","color":"#000000","interpolate":"monotone"},
     "encoding":{"x":{"field":"x","type":"quantitative","scale":{"domain":[-16.4,16.5],"nice":false,"zero":false},"axis":{"values":[-10,0,10],"title":"log2(fc)","labelPadding":1,"titlePadding":0}},
      "y":{"field":"hi","type":"quantitative","scale":{"domain":[-3.75,81.4],"nice":false,"zero":false},"axis":{"values":[0,20,40,60,80],"title":"log10(FDR","labelPadding":1.5,"titlePadding":1.5}},
      "y2":{"field":"lo"}}},
    {"data":{"name":"cDown"},"mark":{"type":"circle","color":"#619CFF","size":18,"opacity":1},"encoding":{"x":{"field":"x","type":"quantitative"},"y":{"field":"y","type":"quantitative"}}},
    {"data":{"name":"cUp"},"mark":{"type":"circle","color":"#F8766D","size":18,"opacity":1},"encoding":{"x":{"field":"x","type":"quantitative"},"y":{"field":"y","type":"quantitative"}}},
    {"data":{"values":[{"v":-1},{"v":1}]},"mark":{"type":"rule","color":"#333333","strokeDash":[3,2.5],"strokeWidth":0.9},"encoding":{"x":{"field":"v","type":"quantitative"}}},
    {"data":{"values":[{"v":1.3}]},"mark":{"type":"rule","color":"#333333","strokeDash":[3,2.5],"strokeWidth":0.9},"encoding":{"y":{"field":"v","type":"quantitative"}}},
    {"data":{"values":[{"x":-15.8,"y":75.6,"t":"down:668"}]},"mark":{"type":"text","align":"left","baseline":"alphabetic","fontSize":14.75,"color":"#619CFF"},"encoding":{"x":{"field":"x","type":"quantitative"},"y":{"field":"y","type":"quantitative"},"text":{"field":"t"}}},
    {"data":{"values":[{"x":15.3,"y":75.6,"t":"up:320"}]},"mark":{"type":"text","align":"right","baseline":"alphabetic","fontSize":14.75,"color":"#F8766D"},"encoding":{"x":{"field":"x","type":"quantitative"},"y":{"field":"y","type":"quantitative"},"text":{"field":"t"}}}
   ]},
  {"title":{"text":"D\u2003The heatmap of related-growth genes","offset":5.5,"dx":-7.5},
   "spacing":3.5,
   "resolve":{"legend":{"color":"independent"},"scale":{"color":"independent"}},
   "vconcat":[
    {"width":270.5,"height":173,"view":{"stroke":null},
     "layer":[
      {"data":{"name":"hmTop"},"transform":[{"filter":"datum.v !== null"}],"mark":{"type":"rect","stroke":"#9b9b9b","strokeWidth":0.8},
       "encoding":{
        "x":{"field":"s","type":"nominal","scale":{"domain":["SB1","SB2","SB3","LB1","LB2","LB3","SL1","SL2","SL3","LL1","LL2","LL3","SM1","SM2","SM3","LM1","LM2","LM3"],"paddingInner":0,"paddingOuter":0.15},"axis":null},
        "y":{"field":"g","type":"nominal","scale":{"domain":["FGF6","FGF8","MYF5","IGF1","FGF1","IGF2","FGF7","FGFBP1","MYOD","MEF2"],"paddingInner":0,"paddingOuter":0},"axis":{"orient":"right","ticks":false,"domain":false,"labelPadding":1,"labelFontSize":9.5,"title":null,"labelColor":"#111111"}},
        "color":{"field":"v","type":"quantitative","scale":{"domain":[-2,-1.333,-0.667,0,0.667,1.333,2],"range":["#4575B4","#91BFDB","#E0F3F8","#FFFFBF","#FEE090","#FC8D59","#D73027"]},
         "legend":{"title":null,"values":[2,1,0,-1,-2],"gradientLength":142,"gradientThickness":11,"offset":4,"labelFontSize":9.5,"labelOffset":0,"labelAlign":"right","labelColor":"#333333","gradientStrokeWidth":0}}}},
      {"data":{"name":"hmTop"},"transform":[{"filter":"datum.v === null"}],"mark":{"type":"rect","fill":"#d9d9d9","stroke":"#9b9b9b","strokeWidth":0.8},
       "encoding":{"x":{"field":"s","type":"nominal"},"y":{"field":"g","type":"nominal"}}},
      {"data":{"values":[{"s":"LB3"},{"s":"LL3"}]},"mark":{"type":"rule","color":"#ffffff","strokeWidth":2.5},
       "encoding":{"x":{"field":"s","type":"nominal","bandPosition":1}}}
     ]},
    {"width":270.5,"height":90,"view":{"stroke":null},
     "layer":[
      {"data":{"name":"hmBot"},"mark":{"type":"rect","stroke":"#9b9b9b","strokeWidth":0.8},
       "encoding":{
        "x":{"field":"s","type":"nominal","scale":{"domain":["SB1","SB2","SB3","LB1","LB2","LB3","SL1","SL2","SL3","LL1","LL2","LL3","SM1","SM2","SM3","LM1","LM2","LM3"],"paddingInner":0,"paddingOuter":0.15},"axis":{"orient":"bottom","ticks":false,"domain":false,"labelAngle":90,"labelPadding":1,"labelFontSize":9.5,"title":null,"labelColor":"#111111"}},
        "y":{"field":"g","type":"nominal","scale":{"domain":["IGFBP3","IGFBP1","IGFBP7","IGF2BP1","IGFBP2"],"paddingInner":0,"paddingOuter":0.1},"axis":{"orient":"right","ticks":false,"domain":false,"labelPadding":1,"labelFontSize":9.5,"title":null,"labelColor":"#111111"}},
        "color":{"field":"v","type":"quantitative","scale":{"domain":[-2,-1.333,-0.667,0,0.667,1.333,2],"range":["#4575B4","#91BFDB","#E0F3F8","#FFFFBF","#FEE090","#FC8D59","#D73027"]},"legend":null}}},
      {"data":{"values":[{"s":"LB3"},{"s":"LL3"}]},"mark":{"type":"rule","color":"#ffffff","strokeWidth":2.5},
       "encoding":{"x":{"field":"s","type":"nominal","bandPosition":1}}},
      {"data":{"values":[{"box":"IGFBP"}]},"mark":{"type":"rect","filled":false,"color":"#E8392F","strokeWidth":1.7},"encoding":{}}
     ]}
   ]}
 ]}
]
}
